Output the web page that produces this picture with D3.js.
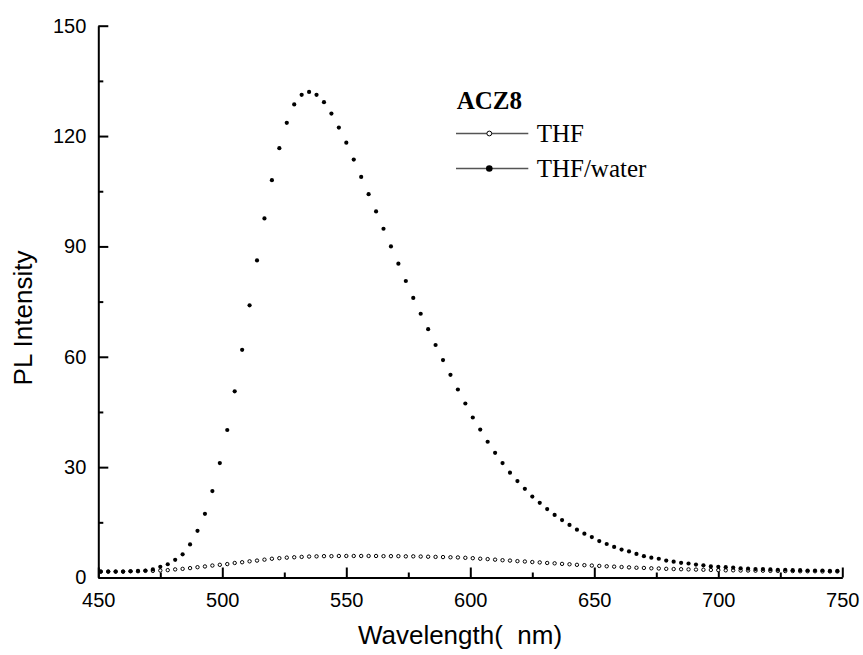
<!DOCTYPE html>
<html>
<head>
<meta charset="utf-8">
<script src="https://cdn.jsdelivr.net/npm/d3@7/dist/d3.min.js"></script>
<style>
  html, body { margin: 0; padding: 0; background: #fff; }
  svg { display: block; }
  .tick text { font-family: "Liberation Sans", Arial, sans-serif; font-size: 20px; fill: #000; }
</style>
</head>
<body>
<svg id="chart" width="863" height="655"></svg>
<script>
// ---- data ----
const wavelengths = [
  451,454,457,460,463,466,469,472,475,478,481,484,487,490,493,496,499,502,505,508,
  511,514,517,520,523,526,529,532,535,538,541,544,547,550,553,556,559,562,565,568,
  571,574,577,580,583,586,589,592,595,598,601,604,607,610,613,616,619,622,625,628,
  631,634,637,640,643,646,649,652,655,658,661,664,667,670,673,676,679,682,685,688,
  691,694,697,700,703,706,709,712,715,718,721,724,727,730,733,736,739,742,745,748
];
const thf = [
  1.6,1.6,1.6,1.6,1.7,1.7,1.8,1.8,1.9,2.0,2.2,2.35,2.55,2.8,3.0,3.25,3.45,3.65,3.95,4.15,
  4.4,4.6,4.85,5.1,5.25,5.4,5.5,5.6,5.7,5.75,5.8,5.8,5.85,5.85,5.85,5.85,5.85,5.85,5.8,5.8,
  5.8,5.75,5.75,5.7,5.65,5.6,5.55,5.5,5.45,5.35,5.25,5.1,5.0,4.85,4.7,4.6,4.45,4.35,4.2,4.1,
  3.95,3.85,3.7,3.6,3.45,3.35,3.25,3.15,3.05,2.95,2.85,2.75,2.65,2.6,2.5,2.45,2.35,2.3,2.25,2.2,
  2.15,2.1,2.05,2.0,1.95,1.95,1.9,1.9,1.85,1.85,1.8,1.8,1.75,1.75,1.7,1.7,1.7,1.65,1.65,1.65
];
const thfWater = [
  1.6,1.6,1.6,1.6,1.7,1.8,1.9,2.2,2.9,3.6,4.8,6.3,9.0,12.7,17.3,23.5,31.1,40.1,50.6,61.9,
  74.0,86.2,97.6,108.0,116.7,123.6,128.6,131.2,132.0,131.2,129.2,126.1,122.3,118.2,113.6,108.9,104.2,99.5,94.8,90.0,
  85.3,80.6,76.0,71.7,67.5,63.2,59.1,55.1,51.1,47.3,43.5,40.2,36.9,33.9,31.1,28.5,26.2,24.1,22.0,20.3,
  18.6,17.0,15.6,14.3,13.0,11.9,11.0,9.9,9.1,8.3,7.6,7.1,6.4,5.8,5.4,5.1,4.6,4.3,4.0,3.8,
  3.5,3.3,3.0,2.9,2.8,2.7,2.5,2.4,2.3,2.3,2.2,2.1,2.1,2.0,2.0,1.9,1.9,1.9,1.8,1.8
];
const xTicks = [450, 500, 550, 600, 650, 700, 750];
const xMinorTicks = [475, 525, 575, 625, 675, 725];
const yTicks = [0, 30, 60, 90, 120, 150];
const yMinorTicks = [15, 45, 75, 105, 135];
const legendTitle = "ACZ8";
const seriesNames = ["THF", "THF/water"];
const xTitle = "Wavelength(  nm)";
const yTitle = "PL Intensity";

// ---- layout ----
const svg = d3.select("#chart");
const x = d3.scaleLinear().domain([450, 750]).range([98.3, 842.3]);
const y = d3.scaleLinear().domain([0, 150]).range([577.5, 25.7]);
const sans = '"Liberation Sans", Arial, sans-serif';
const serif = '"Liberation Serif", "Times New Roman", serif';

// minor ticks
svg.append("g").attr("transform", `translate(0,${y(0)})`)
  .call(d3.axisBottom(x).tickValues(xMinorTicks).tickSize(-5).tickFormat(""))
  .call(g => g.select(".domain").remove())
  .selectAll("line").attr("stroke", "#000").attr("stroke-width", 2);
svg.append("g").attr("transform", `translate(${x(450)},0)`)
  .call(d3.axisLeft(y).tickValues(yMinorTicks).tickSize(-5).tickFormat(""))
  .call(g => g.select(".domain").remove())
  .selectAll("line").attr("stroke", "#000").attr("stroke-width", 2);

// major axes
const xAxis = svg.append("g").attr("transform", `translate(0,${y(0)})`)
  .call(d3.axisBottom(x).tickValues(xTicks).tickSize(-10).tickSizeOuter(0).tickPadding(15).tickFormat(d3.format("d")));
xAxis.select(".domain").attr("stroke", "#000").attr("stroke-width", 2);
xAxis.selectAll(".tick line").attr("stroke", "#000").attr("stroke-width", 2);

const yAxis = svg.append("g").attr("transform", `translate(${x(450)},0)`)
  .call(d3.axisLeft(y).tickValues(yTicks).tickSize(-10).tickSizeOuter(0).tickPadding(12).tickFormat(d3.format("d")));
yAxis.select(".domain").attr("stroke", "#000").attr("stroke-width", 2);
yAxis.selectAll(".tick line").attr("stroke", "#000").attr("stroke-width", 2);

// axis titles
svg.append("text").attr("x", 460).attr("y", 644).attr("text-anchor", "middle")
  .style("white-space", "pre")
  .attr("font-family", sans).attr("font-size", 26).attr("fill", "#000").text(xTitle);
svg.append("text").attr("transform", "translate(32,318) rotate(-90)").attr("text-anchor", "middle")
  .attr("font-family", sans).attr("font-size", 26).attr("fill", "#000").text(yTitle);

// data
const ptsThf = wavelengths.map((w, i) => ({ w, v: thf[i] }));
const ptsWater = wavelengths.map((w, i) => ({ w, v: thfWater[i] }));

svg.append("g").selectAll("circle").data(ptsThf).join("circle")
  .attr("cx", d => x(d.w)).attr("cy", d => y(d.v)).attr("r", 1.7)
  .attr("fill", "#fff").attr("stroke", "#000").attr("stroke-width", 1);
svg.append("g").selectAll("circle").data(ptsWater).join("circle")
  .attr("cx", d => x(d.w)).attr("cy", d => y(d.v)).attr("r", 2.1)
  .attr("fill", "#000");

// legend
const lg = svg.append("g");
lg.append("text").attr("x", 456.7).attr("y", 109.3)
  .attr("font-family", serif).attr("font-weight", "bold").attr("font-size", 25).attr("fill", "#000")
  .text(legendTitle);
seriesNames.forEach((name, i) => {
  const ly = 133.5 + i * 35;
  lg.append("line").attr("x1", 456).attr("x2", 528.3).attr("y1", ly).attr("y2", ly)
    .attr("stroke", "#555").attr("stroke-width", 1.5);
  if (i === 0) {
    lg.append("circle").attr("cx", 489.3).attr("cy", ly).attr("r", 2.4)
      .attr("fill", "#fff").attr("stroke", "#000").attr("stroke-width", 1);
  } else {
    lg.append("circle").attr("cx", 489.3).attr("cy", ly).attr("r", 3.3).attr("fill", "#000");
  }
  lg.append("text").attr("x", 536.7).attr("y", ly + 8.4)
    .attr("font-family", serif).attr("font-size", 25).attr("fill", "#000").text(name);
});
</script>
</body>
</html>
